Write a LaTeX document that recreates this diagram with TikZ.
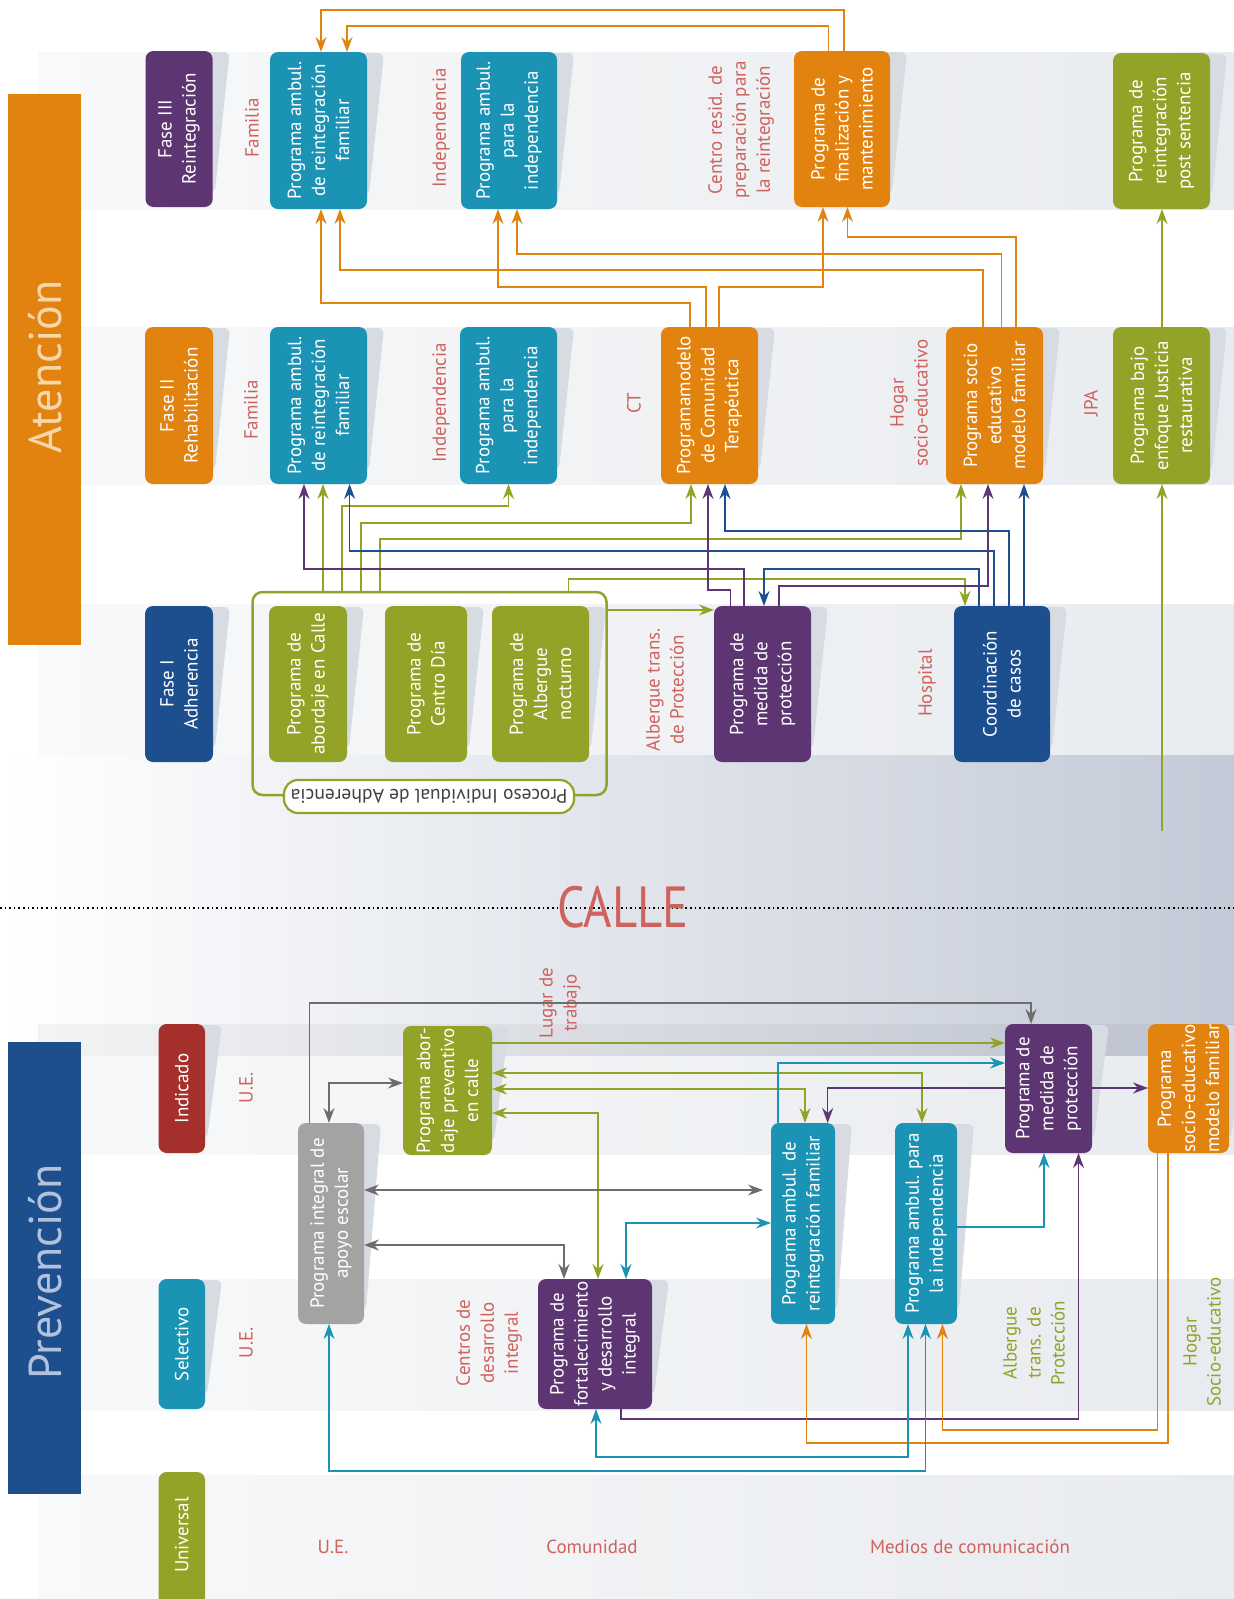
\documentclass[tikz,border=0pt]{standalone}
\usepackage{fontspec}
\setmainfont{PT Sans}
\usetikzlibrary{arrows.meta}
\definecolor{cTeal}{HTML}{1B93B5}
\definecolor{cOrange}{HTML}{E2830F}
\definecolor{cPurple}{HTML}{5E3573}
\definecolor{cGreen}{HTML}{93A328}
\definecolor{cBlue}{HTML}{1D4F8E}
\definecolor{cRed}{HTML}{A52F2B}
\definecolor{cGrayBox}{HTML}{A3A3A3}
\definecolor{cLabel}{HTML}{D0625D}
\definecolor{cGrayLine}{HTML}{6D6D6D}
\definecolor{cBandL}{HTML}{F8F9FA}
\definecolor{cBandR}{HTML}{E8EBEF}
\definecolor{cCalle}{HTML}{C3CAD7}
\definecolor{cShadow}{HTML}{D6DCE2}
\definecolor{cAtText}{HTML}{F9D6A8}
\definecolor{cPrText}{HTML}{B3C2DC}
\tikzset{
  bx/.style={rectangle, rounded corners=8pt, inner sep=0pt, outer sep=0pt, draw=none},
  bt/.style={rotate=90, text=white, align=center, inner sep=0pt, font=\fontsize{19}{24}\selectfont},
  lb/.style={rotate=90, text=cLabel, align=center, inner sep=0pt, font=\fontsize{19}{24}\selectfont},
  glb/.style={lb, text=cGreen},
  hlb/.style={text=cLabel, inner sep=0pt, font=\fontsize{19}{24}\selectfont},
  ln/.style={line width=1.4pt},
  ar/.style={-{Stealth[length=15pt,width=11pt,inset=5pt]}},
  dar/.style={{Stealth[length=15pt,width=11pt,inset=5pt]}-{Stealth[length=15pt,width=11pt,inset=5pt]}},
}
\newcommand\pbox[7]{%
  \fill[cShadow,rounded corners=6pt] ({#4-10},{#3+1}) -- ({#4+17},{#3+1}) -- ({#4+2},{#5-14}) -- ({#4-10},{#5-14}) -- cycle;
  \node[bx,fill=#6,minimum width={(#4-#2)*1pt},minimum height={(#5-#3)*1pt}] (#1) at ({(#2+#4)/2},{(#3+#5)/2}) {};
  \node[bt] at (#1) {#7};
}
\begin{document}
\begin{tikzpicture}[x=1pt,y=-1pt]
\useasboundingbox (0,0) rectangle (1234,1599);
\fill[white] (0,0) rectangle (1234,1599);
% backgrounds
\shade[left color=cBandL, right color=cBandR] (38,52) rectangle (1234,209);
\shade[left color=cBandL, right color=cBandR] (38,327) rectangle (1234,484);
\shade[left color=cBandL, right color=cBandR] (38,604) rectangle (1234,755);
\shade[left color=white, right color=cCalle] (0,755) rectangle (1234,1056);
\fill[black, opacity=0.04] (38,1024) rectangle (1234,1056);
\shade[left color=cBandL, right color=cBandR] (38,1056) rectangle (1234,1154);
\shade[left color=cBandL, right color=cBandR] (38,1279) rectangle (1234,1410);
\shade[left color=cBandL, right color=cBandR] (38,1475) rectangle (1234,1599);
% big bars
\fill[cOrange] (8,94) rectangle (81,645);
\node[rotate=90, text=cAtText, inner sep=0pt, font=\fontsize{46}{46}\selectfont] (atn) at (45,367) {Atención};
\fill[cBlue] (8,1042) rectangle (81,1494);
\node[rotate=90, text=cPrText, inner sep=0pt, font=\fontsize{46}{46}\selectfont] (prv) at (45,1272) {Prevención};
% calle
\draw[line width=2pt, dash pattern=on 1.6pt off 3pt] (0,908) -- (1234,908);
\node[text=cLabel, inner sep=0pt, xscale=0.84, font=\fontsize{58}{58}\selectfont] (calle) at (623,907) {CALLE};
% phase labels
\pbox{f3}{145.5}{51}{212.7}{207}{cPurple}{Fase III\\Reintegración}
\pbox{f2}{145}{327}{213}{484}{cOrange}{Fase II\\Rehabilitación}
\pbox{f1}{145}{606}{213}{762}{cBlue}{Fase I\\Adherencia}
% Fase III
\pbox{fam3}{270}{52}{367}{209}{cTeal}{Programa ambul.\\de reintegración\\familiar}
\pbox{ind3}{461}{52}{557}{209}{cTeal}{Programa ambul.\\para la\\independencia}
\pbox{fin}{794}{51}{890}{207}{cOrange}{Programa de\\finalización y\\mantenimiento}
\pbox{post}{1113}{53}{1210}{209}{cGreen}{Programa de\\reintegración\\post sentencia}
\node[lb] (l1) at (252,128) {Familia};
\node[lb] (l2) at (441,128) {Independencia};
\node[lb] (l3) at (741,130) {Centro resid. de\\preparación para\\la reintegración};
% Fase II
\pbox{fam2}{270}{327}{367}{484}{cTeal}{Programa ambul.\\de reintegración\\familiar}
\pbox{ind2}{460}{327}{557}{484}{cTeal}{Programa ambul.\\para la\\independencia}
\pbox{ct}{661}{327}{758}{484}{cOrange}{Programamodelo\\de Comunidad\\Terapéutica}
\pbox{soc}{946}{327}{1043}{484}{cOrange}{Programa socio\\educativo\\modelo familiar}
\pbox{jpa}{1113}{327}{1210}{484}{cGreen}{Programa bajo\\enfoque Justicia\\restaurativa}
\node[lb] (l4) at (251,410) {Familia};
\node[lb] (l5) at (441,403) {Independencia};
\node[lb] (l6) at (634,403) {CT};
\node[lb] (l7) at (909,403) {Hogar\\socio-educativo};
\node[lb] (l8) at (1091,403) {JPA};
% Fase I
\node[draw=cGreen, line width=2.5pt, rounded corners=10pt, inner sep=0pt, outer sep=0pt, minimum width=354pt, minimum height=203pt] (cont) at (429.5,693.5) {};
\pbox{abo}{269}{606}{347}{762}{cGreen}{Programa de\\abordaje en Calle}
\pbox{cdia}{385}{606}{467}{762}{cGreen}{Programa de\\Centro Día}
\pbox{alb}{492}{606}{589}{762}{cGreen}{Programa de\\Albergue\\nocturno}
\pbox{med}{714}{606}{811}{762}{cPurple}{Programa de\\medida de\\protección}
\pbox{coord}{954}{606}{1050}{762}{cBlue}{Coordinación\\de casos}
\node[draw=cGreen, fill=white, line width=2.2pt, rounded corners=14pt, minimum width=290pt, minimum height=33pt, inner sep=0pt, rotate=180, text=black!75, font=\fontsize{19.5}{22}\selectfont] (pill) at (429,796.5) {Proceso Individual de Adherencia};
\node[lb] (l9) at (665,690) {Albergue trans.\\de Protección};
\node[lb] (l10) at (927,683) {Hospital};
% Prevention
\pbox{indi}{158.6}{1024}{205}{1153}{cRed}{Indicado}
\pbox{sel}{158.6}{1279}{205}{1409}{cTeal}{Selectivo}
\node[bx, fill=cGreen, minimum width=46.4pt, minimum height=140pt] (uni) at (181.8,1542) {};
\node[bt] at (181.8,1535) {Universal};
\pbox{abp}{403}{1026}{492}{1155}{cGreen}{Programa abor-\\daje preventivo\\en calle}
\pbox{apo}{298}{1123}{364}{1324}{cGrayBox}{Programa integral de\\apoyo escolar}
\pbox{famp}{771}{1123}{835}{1324}{cTeal}{Programa ambul. de\\reintegración familiar}
\pbox{indp}{895}{1123}{957}{1324}{cTeal}{Programa ambul. para\\la independencia}
\pbox{medp}{1005}{1024}{1092}{1153}{cPurple}{Programa de\\medida de\\protección}
\pbox{socp}{1148}{1024}{1229}{1153}{cOrange}{Programa\\socio-educativo\\modelo familiar}
\pbox{fort}{538}{1279}{652}{1409}{cPurple}{Programa de\\fortalecimiento\\y desarrollo\\integral}
\node[lb] (l11) at (246,1088) {U.E.};
\node[lb] (l12) at (560,1003) {Lugar de\\trabajo};
\node[lb] (l13) at (246,1343) {U.E.};
\node[lb] (l14) at (489,1343) {Centros de\\desarrollo\\integral};
\node[glb] (l15) at (1034,1343) {Albergue\\trans. de\\Protección};
\node[glb] (l16) at (1202,1342) {Hogar\\Socio-educativo};
\node[hlb] (l17) at (333,1547) {U.E.};
\node[hlb] (l18) at (592,1547) {Comunidad};
\node[hlb] (l19) at (970,1547) {Medios de comunicación};
% ---- connectors: Atencion orange
\draw[ln,cOrange,ar] (fin.north -| 844,0) |- (321,10) -- (fam3.north -| 321,0);
\draw[ln,cOrange,ar] (fin.north -| 828.5,0) |- (347,26) -- (fam3.north -| 347,0);
\draw[ln,cOrange,ar] (soc.north -| 1016,0) |- (847.5,237) -- (fin.south -| 847.5,0);
\draw[ln,cOrange,ar] (soc.north -| 1001.5,0) |- (517,254) -- (ind3.south -| 517,0);
\draw[ln,cOrange,ar] (soc.north -| 983,0) |- (340,270) -- (fam3.south -| 340,0);
\draw[ln,cOrange,ar] (ct.north -| 706,0) |- (498,287) -- (ind3.south -| 498,0);
\draw[ln,cOrange,ar] (ct.north -| 719,0) |- (823,287) -- (fin.south -| 823,0);
\draw[ln,cOrange,ar] (ct.north -| 690,0) |- (321,303) -- (fam3.south -| 321,0);
% green JPA
\draw[ln,cGreen,ar] (jpa.north -| 1162,0) -- (post.south -| 1162,0);
\coordinate (jpaStart) at (1162,831);
\draw[ln,cGreen,ar] (jpaStart) -- (jpa.south -| 1162,0);
% Fase I -> II
\draw[ln,cGreen,ar] (cont.north -| 323,0) -- (fam2.south -| 323,0);
\draw[ln,cGreen,ar] (cont.north -| 342,0) |- (508.5,506) -- (ind2.south -| 508.5,0);
\draw[ln,cGreen,ar] (cont.north -| 361,0) |- (691,523) -- (ct.south -| 691,0);
\draw[ln,cGreen,ar] (cont.north -| 380,0) |- (961,539) -- (soc.south -| 961,0);
\draw[ln,cGreen,ar] (cont.north -| 568.5,0) |- (965,579) -- (coord.north -| 965,0);
\draw[ln,cBlue,ar] (coord.north -| 994,0) |- (349.6,551) -- (fam2.south -| 349.6,0);
\draw[ln,cBlue,ar] (coord.north -| 1009,0) |- (725,531) -- (ct.south -| 725,0);
\draw[ln,cBlue,ar] (coord.north -| 1024,0) -- (soc.south -| 1024,0);
\draw[ln,cBlue,ar] (coord.north -| 979,0) |- (764,569) -- (med.north -| 764,0);
\draw[ln,cPurple,ar] (med.north -| 744,0) |- (304,569) -- (fam2.south -| 304,0);
\draw[ln,cPurple,ar] (med.north -| 779,0) |- (988,586) -- (soc.south -| 988,0);
\draw[ln,cPurple,ar] (med.north -| 730.6,0) |- (708,590) -- (ct.south -| 708,0);
\draw[ln,cGreen,ar] (cont.north east |- 0,610) -- (med.west |- 0,610);
% Prevention connectors
\draw[ln,cGrayLine,ar] (apo.north -| 309.6,0) |- (1031,1003) -- (medp.north -| 1031,0);
\draw[ln,cGrayLine,dar] (apo.north -| 329,0) |- (abp.west |- 0,1083);
\draw[ln,cGreen,ar] (abp.east |- 0,1043) -- (medp.west |- 0,1043);
\draw[ln,cGreen,dar] (abp.east |- 0,1073) -| (indp.north -| 922,0);
\draw[ln,cGreen,dar] (abp.east |- 0,1089) -| (famp.north -| 805,0);
\draw[ln,cGreen,dar] (abp.east |- 0,1113) -| (fort.north -| 598,0);
\draw[ln,cGrayLine,dar,shorten >=8pt] (apo.east |- 0,1190) -- (famp.west |- 0,1190);
\draw[ln,cGrayLine,dar] (apo.east |- 0,1245) -| (fort.north -| 564,0);
\draw[ln,cTeal,dar] (fort.north -| 626,0) |- (famp.west |- 0,1223);
\draw[ln,cTeal,ar] (famp.north -| 778,0) |- (medp.west |- 0,1063);
\draw[ln,cPurple,ar] (medp.west |- 0,1088) -| (famp.north -| 827.7,0);
\draw[ln,cPurple,ar] (medp.east |- 0,1088) -- (socp.west |- 0,1088);
\draw[ln,cTeal,ar] (indp.east |- 0,1227) -| (medp.south -| 1044,0);
\draw[ln,cPurple,ar] (fort.south -| 621,0) |- (1078.5,1419) -- (medp.south -| 1078.5,0);
\draw[ln,cOrange,ar] (socp.south -| 1157.7,0) |- (942.5,1430) -- (indp.south -| 942.5,0);
\draw[ln,cOrange,ar] (socp.south -| 1168,0) |- (806.5,1443) -- (famp.south -| 806.5,0);
\draw[ln,cTeal,dar] (indp.south -| 908,0) |- (596,1457) -- (fort.south -| 596,0);
\draw[ln,cTeal,dar] (indp.south -| 925.5,0) |- (329,1471) -- (apo.south -| 329,0);
\end{tikzpicture}
\end{document}
